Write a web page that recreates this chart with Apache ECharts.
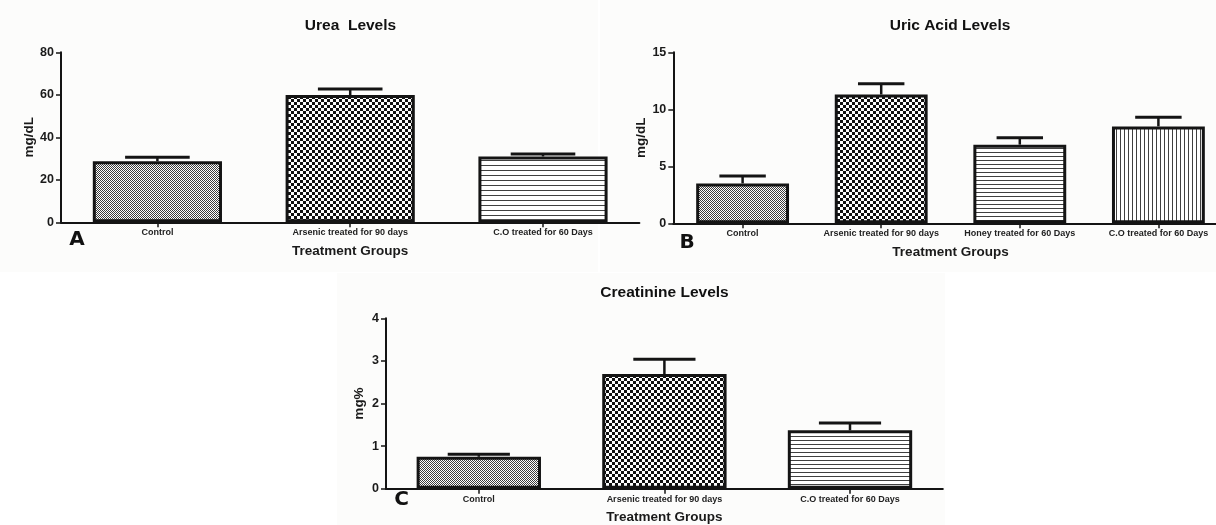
<!DOCTYPE html>
<html>
<head>
<meta charset="utf-8">
<script src="https://cdn.jsdelivr.net/npm/echarts@6.0.0/dist/echarts.min.js"></script>
<style>
  html, body { margin: 0; padding: 0; background: #ffffff; }
  #wrap { position: relative; width: 1216px; height: 525px; overflow: hidden; }
  .panel { position: absolute; background: #fcfcfb; }
  #chart { position: absolute; left: 0; top: 0; width: 1216px; height: 525px; }
</style>
</head>
<body>
<div id="wrap">
  <div class="panel" style="left:0;top:0;width:598px;height:272px;"></div>
  <div class="panel" style="left:600px;top:0;width:616px;height:272px;"></div>
  <div class="panel" style="left:337px;top:273px;width:608px;height:252px;"></div>
  <div id="chart"></div>
</div>
<script>
// ---------------- data ----------------
const ureaCategories = ['Control', 'Arsenic treated for 90 days', 'C.O treated for 60 Days'];
const ureaMean = [28.7, 59.9, 31.0];
const ureaSem = [1.9, 2.8, 1.1];
const ureaTicks = [0, 20, 40, 60, 80];

const uricCategories = ['Control', 'Arsenic treated for 90 days', 'Honey treated for 60 Days', 'C.O treated for 60 Days'];
const uricMean = [3.5, 11.3, 6.9, 8.5];
const uricSem = [0.65, 0.95, 0.6, 0.8];
const uricTicks = [0, 5, 10, 15];

const creatCategories = ['Control', 'Arsenic treated for 90 days', 'C.O treated for 60 Days'];
const creatMean = [0.75, 2.69, 1.37];
const creatSem = [0.06, 0.35, 0.17];
const creatTicks = [0, 1, 2, 3, 4];

// ---------------- styles ----------------
const FONT = '"Liberation Sans", Arial, Helvetica, sans-serif';
const INK = '#141414';

function makePattern(w, h, draw) {
  const c = document.createElement('canvas');
  c.width = w; c.height = h;
  const g = c.getContext('2d');
  g.fillStyle = '#ffffff';
  g.fillRect(0, 0, w, h);
  draw(g);
  return { image: c, repeat: 'repeat' };
}
const fineCheck = makePattern(2, 2, g => { g.fillStyle = '#3c3c3c'; g.fillRect(0, 0, 1, 1); g.fillRect(1, 1, 1, 1); });
const coarseCheck = makePattern(6, 6, g => { g.fillStyle = '#111111'; g.fillRect(0, 0, 3, 3); g.fillRect(3, 3, 3, 3); });
const hLines5 = makePattern(5, 5, g => { g.fillStyle = '#404040'; g.fillRect(0, 0, 5, 1); });
const hLines4 = makePattern(4, 4, g => { g.fillStyle = '#404040'; g.fillRect(0, 0, 4, 1); });
const vLines4 = makePattern(4, 4, g => { g.fillStyle = '#404040'; g.fillRect(0, 0, 1, 4); });

const panels = [
  { cats: ureaCategories, mean: ureaMean, sem: ureaSem, ticks: ureaTicks, yName: 'mg/dL', yGap: 25,
    fills: [fineCheck, coarseCheck, hLines5],
    grid: { left: 61, top: 52.3, width: 578.4, height: 170 } },
  { cats: uricCategories, mean: uricMean, sem: uricSem, ticks: uricTicks, yName: 'mg/dL', yGap: 24,
    fills: [fineCheck, coarseCheck, hLines4, vLines4],
    grid: { left: 673.3, top: 52.3, width: 554.4, height: 171 } },
  { cats: creatCategories, mean: creatMean, sem: creatSem, ticks: creatTicks, yName: 'mg%', yGap: 20,
    fills: [fineCheck, coarseCheck, hLines4],
    grid: { left: 386, top: 318.3, width: 556.8, height: 170.4 } }
];

const grids = [], xAxes = [], yAxes = [], series = [];
panels.forEach((p, i) => {
  grids.push(Object.assign({ containLabel: false, outerBoundsMode: 'none' }, p.grid));
  xAxes.push({
    gridIndex: i, type: 'category', data: p.cats,
    axisLine: { show: true, lineStyle: { color: INK, width: 2 } },
    axisTick: { show: true, alignWithLabel: true, length: 5, lineStyle: { color: INK, width: 1.5 } },
    axisLabel: { interval: 0, fontSize: 9, fontWeight: 'bold', color: '#222', margin: 6, fontFamily: FONT },
    splitLine: { show: false },
    name: 'Treatment Groups', nameLocation: 'middle', nameGap: 22,
    nameTextStyle: { fontSize: 13.5, fontWeight: 'bold', color: '#1a1a1a', fontFamily: FONT }
  });
  const tk = p.ticks;
  yAxes.push({
    gridIndex: i, type: 'value', min: tk[0], max: tk[tk.length - 1], interval: tk[1] - tk[0],
    axisLine: { show: true, lineStyle: { color: INK, width: 2 } },
    axisTick: { show: true, length: 5, lineStyle: { color: INK, width: 1.5 } },
    axisLabel: { fontSize: 12.5, fontWeight: 'bold', color: '#1a1a1a', margin: 7, fontFamily: FONT },
    splitLine: { show: false },
    name: p.yName, nameLocation: 'middle', nameRotate: 90, nameGap: p.yGap,
    nameTextStyle: { fontSize: 13.5, fontWeight: 'bold', color: '#1a1a1a', fontFamily: FONT }
  });
  series.push({
    type: 'bar', xAxisIndex: i, yAxisIndex: i, barWidth: '67%',
    data: p.mean.map((v, k) => ({ value: v, itemStyle: { color: p.fills[k] } })),
    itemStyle: { borderColor: INK, borderWidth: 3 },
    emphasis: { disabled: true }, silent: true, z: 2
  });
  series.push({
    type: 'custom', xAxisIndex: i, yAxisIndex: i, silent: true, z: 3,
    data: p.mean.map((v, k) => [k, v, p.sem[k]]),
    encode: { x: 0, y: 1 },
    renderItem: function (params, api) {
      const x = api.value(0), m = api.value(1), e = api.value(2);
      const base = api.coord([x, m]);
      const top = api.coord([x, m + e]);
      const bw = api.size([1, 0])[0] * 0.67;
      const half = bw * 0.25;
      return {
        type: 'group',
        children: [
          { type: 'line', shape: { x1: base[0], y1: base[1], x2: top[0], y2: top[1] },
            style: { stroke: INK, lineWidth: 2.5 } },
          { type: 'line', shape: { x1: top[0] - half, y1: top[1], x2: top[0] + half, y2: top[1] },
            style: { stroke: INK, lineWidth: 3 } }
        ]
      };
    }
  });
});

function label(text, x, y, font) {
  return { type: 'text', x: x, y: y, silent: true,
    style: { text: text, font: font, fill: '#111', align: 'center', verticalAlign: 'middle',
             textAlign: 'center', textVerticalAlign: 'middle' } };
}

const chart = echarts.init(document.getElementById('chart'), null, { renderer: 'canvas' });
chart.setOption({
  backgroundColor: 'transparent',
  animation: false,
  grid: grids,
  xAxis: xAxes,
  yAxis: yAxes,
  series: series,
  graphic: [
    label('Urea  Levels', 350.5, 26, 'bold 15.5px ' + FONT),
    label('Uric Acid Levels', 950, 26, 'bold 15.5px ' + FONT),
    label('Creatinine Levels', 664.5, 292.7, 'bold 15.5px ' + FONT),
    label('A', 77, 240, '900 20px "DejaVu Sans", ' + FONT),
    label('B', 687, 243, '900 20px "DejaVu Sans", ' + FONT),
    label('C', 401.7, 500, '900 20px "DejaVu Sans", ' + FONT)
  ]
});
</script>
</body>
</html>
